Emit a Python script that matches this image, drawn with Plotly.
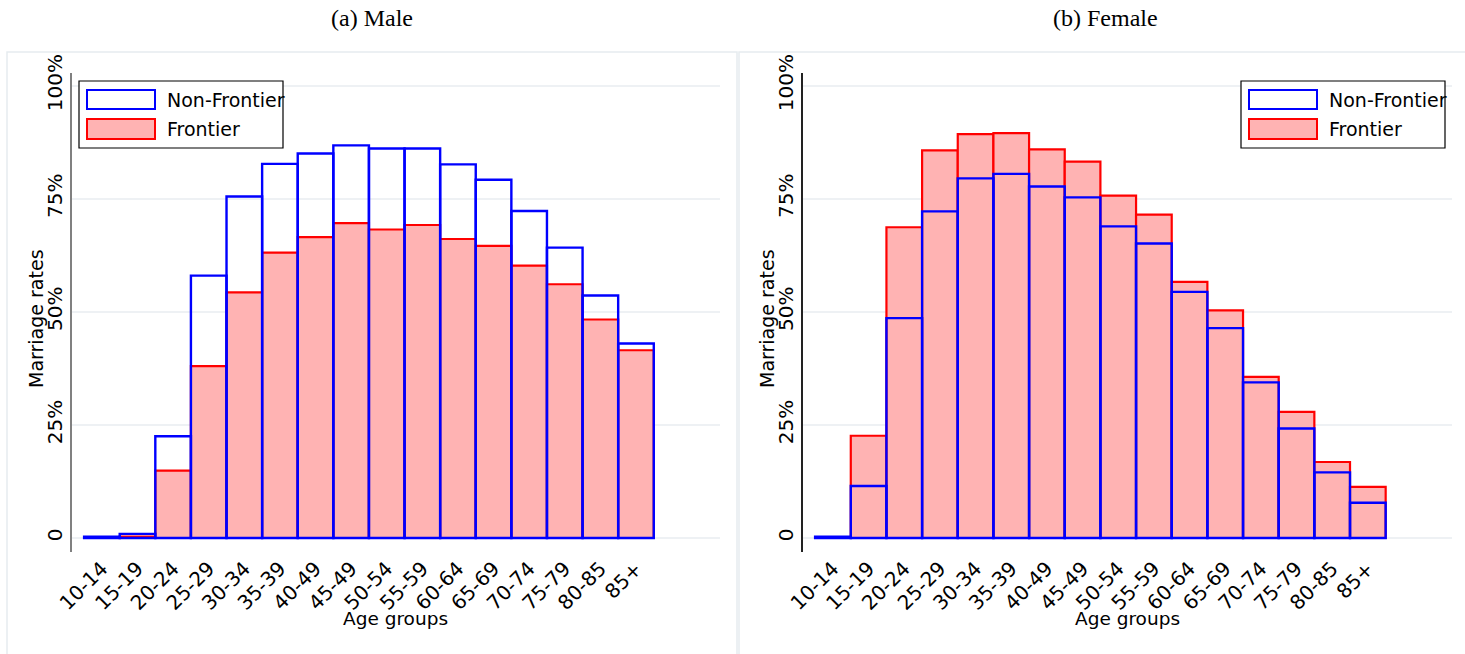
import plotly.graph_objects as go

# Age groups on the x axis
age_groups = ["10-14", "15-19", "20-24", "25-29", "30-34", "35-39", "40-49", "45-49",
              "50-54", "55-59", "60-64", "65-69", "70-74", "75-79", "80-85", "85+"]

# Marriage rates (%) by age group
male_non_frontier = [0.3, 0.9, 22.5, 58.0, 75.5, 82.7, 85.0, 86.8, 86.1, 86.1, 82.6, 79.2, 72.3, 64.2, 53.6, 43.0]
male_frontier = [0.1, 0.3, 14.9, 38.0, 54.3, 63.1, 66.5, 69.6, 68.2, 69.2, 66.1, 64.6, 60.2, 56.1, 48.3, 41.5]
female_non_frontier = [0.3, 11.5, 48.6, 72.2, 79.5, 80.5, 77.7, 75.3, 68.9, 65.1, 54.4, 46.4, 34.4, 24.2, 14.5, 7.8]
female_frontier = [0.2, 22.6, 68.7, 85.7, 89.3, 89.5, 85.9, 83.2, 75.7, 71.5, 56.6, 50.3, 35.6, 27.9, 16.8, 11.3]

y_tickvals = [0, 25, 50, 75, 100]
y_ticktext = ["0", "25%", "50%", "75%", "100%"]

W, H = 1465, 654
BLUE = "#0000ff"
RED = "#ff0000"
PINK = "#ffb3b3"
GRID = "#eef1f4"
FONT = "DejaVu Sans"


def px(x):
    return x / W


def py(y):
    return 1 - y / H


def note(text, x, y, size, family=FONT, xanchor="center", angle=0):
    return dict(text=text, x=px(x), y=py(y), xref="paper", yref="paper",
                xanchor=xanchor, yanchor="middle", showarrow=False, textangle=angle,
                font=dict(family=family, size=size, color="#000"))


fig = go.Figure()

panels = [
    ("x", "y", male_frontier, male_non_frontier),
    ("x2", "y2", female_frontier, female_non_frontier),
]
for xa, ya, fr, nf in panels:
    fig.add_trace(go.Bar(
        x=age_groups, y=fr, xaxis=xa, yaxis=ya, width=1, name="Frontier",
        marker=dict(color=PINK, line=dict(color=RED, width=2.2)), showlegend=False,
    ))
    fig.add_trace(go.Bar(
        x=age_groups, y=nf, xaxis=xa, yaxis=ya, width=1, name="Non-Frontier",
        marker=dict(color="rgba(0,0,0,0)", line=dict(color=BLUE, width=2.4)), showlegend=False,
    ))

xrange = [-0.84, 17.36]
yrange = [-3.1, 102.8]
ydom = [py(552), py(73)]

xcommon = dict(type="category", range=xrange, showgrid=False, zeroline=False, showline=False,
               ticks="", tickangle=-45, tickfont=dict(family=FONT, size=20, color="#000"),
               automargin=False, fixedrange=True)
ycommon = dict(range=yrange, tickvals=y_tickvals, ticktext=y_ticktext, tickangle=-90,
               showgrid=True, gridcolor=GRID, gridwidth=1.5, zeroline=False, showline=True,
               linewidth=1.5, ticks="", tickfont=dict(family=FONT, size=20, color="#000"),
               automargin=False, domain=ydom)

shapes = []
annotations = []

# Panel frames
for x0, x1 in [(7, 737), (739, 1475)]:
    shapes.append(dict(type="rect", xref="paper", yref="paper", x0=px(x0), x1=px(x1),
                       y0=py(660), y1=py(52), line=dict(color="#e6ecef", width=1.5),
                       fillcolor="rgba(0,0,0,0)", layer="below"))

# Panel titles
for text, xc in [("(a) Male", 372), ("(b) Female", 1105)]:
    annotations.append(note(text, xc, 18, 24, family="Liberation Serif"))

# Axis titles
for xl, xr in [(72, 720), (803, 1452)]:
    annotations.append(note("Age groups", (xl + xr) / 2, 618, 18.5))
    annotations.append(note("Marriage rates", xl - 36, 319, 19, angle=-90))

# Legends drawn as boxes with wide swatches
for bx in [79, 1241]:
    shapes.append(dict(type="rect", xref="paper", yref="paper", x0=px(bx), x1=px(bx + 204),
                       y0=py(148), y1=py(81), line=dict(color="#000", width=1.2), fillcolor="#fff"))
    entries = [("Non-Frontier", "#fff", BLUE, 90, 109), ("Frontier", PINK, RED, 119, 139)]
    for label, fill, edge, t, b in entries:
        shapes.append(dict(type="rect", xref="paper", yref="paper", x0=px(bx + 8), x1=px(bx + 76),
                           y0=py(b), y1=py(t), line=dict(color=edge, width=2), fillcolor=fill))
        annotations.append(note(label, bx + 86, (t + b) / 2, 19, xanchor="left"))

fig.update_layout(
    width=W, height=H,
    margin=dict(l=0, r=0, t=0, b=0),
    paper_bgcolor="#fff", plot_bgcolor="#fff",
    barmode="overlay",
    xaxis=dict(domain=[px(72), px(720)], anchor="y", **xcommon),
    xaxis2=dict(domain=[px(803), px(1452)], anchor="y2", **xcommon),
    yaxis=dict(anchor="x", linecolor="#808080", **ycommon),
    yaxis2=dict(anchor="x2", linecolor="#222", **ycommon),
    shapes=shapes,
    annotations=annotations,
    showlegend=False,
)

fig.write_html("out.html")
